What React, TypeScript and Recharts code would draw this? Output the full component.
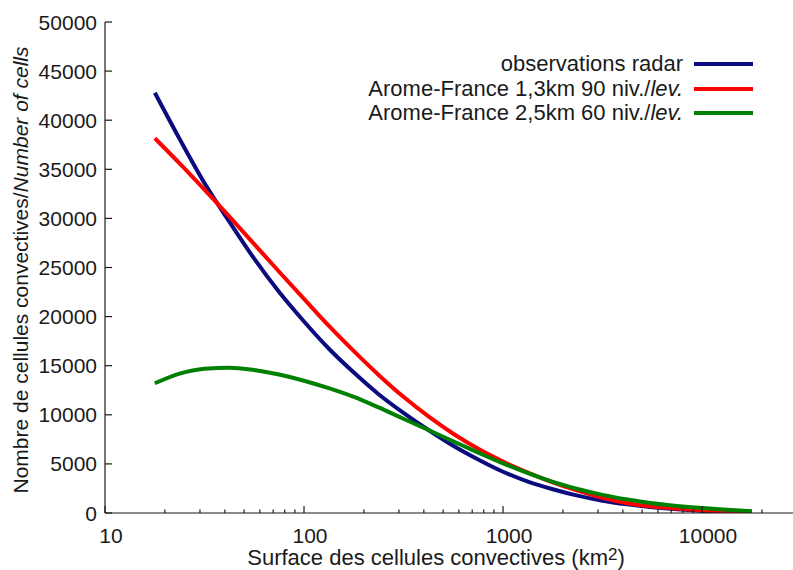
import React from "react";
import { LineChart, Line, XAxis, YAxis, Legend } from "recharts";

// cell surface (km2), log scale, read every 1/8 decade
const surfaces = [17.8, 23.7, 31.6, 42.2, 56.2, 75, 100, 133, 178, 237, 316, 422, 562, 750, 1000, 1334, 1778, 2371, 3162, 4217, 5623, 7499, 10000, 13335, 17783];
const radar = [42800, 38100, 33600, 29650, 25900, 22500, 19500, 16750, 14300, 12100, 10200, 8450, 6850, 5450, 4200, 3200, 2420, 1770, 1250, 880, 590, 370, 210, 150, 120];
const arome13 = [38160, 35600, 32930, 30180, 27380, 24570, 21800, 19070, 16480, 14060, 11830, 9830, 8070, 6540, 5240, 4120, 3120, 2270, 1550, 1000, 650, 430, 290, 190, 130];
const arome25 = [13210, 14200, 14700, 14800, 14560, 14100, 13470, 12710, 11820, 10750, 9600, 8450, 7300, 6150, 5050, 4070, 3170, 2450, 1850, 1380, 1000, 720, 500, 320, 170];

const xTicks = [10, 20, 30, 40, 50, 60, 70, 80, 90, 100, 200, 300, 400, 500, 600, 700, 800, 900, 1000, 2000, 3000, 4000, 5000, 6000, 7000, 8000, 9000, 10000, 20000];
const yTicks = [0, 5000, 10000, 15000, 20000, 25000, 30000, 35000, 40000, 45000, 50000];

const series = [
  { key: "radar", name: "observations radar", italic: "", color: "#0b0b80" },
  { key: "arome13", name: "Arome-France 1,3km 90 niv./", italic: "lev.", color: "#ff0000" },
  { key: "arome25", name: "Arome-France 2,5km 60 niv./", italic: "lev.", color: "#008000" },
];

const data = surfaces.map((x, i) => ({ x, radar: radar[i], arome13: arome13[i], arome25: arome25[i] }));

const INK = "#1a1a1a";
const isDecade = (v: number) => Math.abs(Math.log10(v) - Math.round(Math.log10(v))) < 1e-9;

const XTick = ({ x, y, payload }: any) => {
  const major = isDecade(payload.value);
  return (
    <g>
      <line x1={x} y1={y} x2={x} y2={y - (major ? 7 : 3.5)} stroke={INK} strokeWidth={1.2} />
      {major && (
        <text x={x + 6} y={y + 30} textAnchor="middle" fontSize={21} fill={INK}>
          {payload.value}
        </text>
      )}
    </g>
  );
};

const TopTick = ({ x, y, payload }: any) => {
  const major = isDecade(payload.value);
  return <line x1={x} y1={y} x2={x} y2={y + (major ? 7 : 3.5)} stroke={INK} strokeWidth={1.2} />;
};

const YTick = ({ x, y, payload }: any) => (
  <g>
    <line x1={x} y1={y} x2={x + 7} y2={y} stroke={INK} strokeWidth={1.2} />
    <text x={x - 8} y={y} dy={7.5} textAnchor="end" fontSize={21} fill={INK}>
      {payload.value}
    </text>
  </g>
);

const XTitle = () => (
  <text x={436} y={565} textAnchor="middle" fontSize={22} fill={INK}>
    Surface des cellules convectives (km
    <tspan fontSize={17} dy={-5}>2</tspan>
    <tspan dy={5}>)</tspan>
  </text>
);

const YTitle = () => (
  <text x={28} y={270} transform="rotate(-90 28 270)" textAnchor="middle" fontSize={21} fill={INK}>
    Nombre de cellules convectives/<tspan fontStyle="italic">Number of cells</tspan>
  </text>
);

const LegendBox = () => (
  <div style={{ fontSize: 22, lineHeight: "24.5px", color: INK }}>
    {series.map((s) => (
      <div key={s.key} style={{ display: "flex", alignItems: "center", justifyContent: "flex-end" }}>
        <span>
          {s.name}
          {s.italic && <i>{s.italic}</i>}
        </span>
        <span style={{ display: "inline-block", width: 59, height: 4, background: s.color, marginLeft: 11 }} />
      </div>
    ))}
  </div>
);

export default function App() {
  return (
    <div
      style={{
        position: "absolute",
        left: 0,
        top: 0,
        width: 793,
        height: 570,
        overflow: "hidden",
        background: "#fff",
        fontFamily: "'Liberation Sans', Arial, sans-serif",
      }}
    >
      <LineChart width={800} height={570} data={data} margin={{ top: 22, right: 3, bottom: 0, left: 0 }}>
        <XAxis
          dataKey="x"
          type="number"
          scale="log"
          domain={[10, 30000]}
          allowDataOverflow
          ticks={xTicks}
          interval={0}
          tickSize={0}
          tickMargin={0}
          tick={<XTick />}
          height={57}
          axisLine={{ stroke: INK, strokeWidth: 1.2 }}
          label={<XTitle />}
        />
        <XAxis
          xAxisId="top"
          orientation="top"
          dataKey="x"
          type="number"
          scale="log"
          domain={[10, 30000]}
          allowDataOverflow
          ticks={xTicks}
          interval={0}
          tickSize={0}
          tickMargin={0}
          tick={<TopTick />}
          height={0}
          axisLine={{ stroke: INK, strokeWidth: 1.2 }}
        />
        <YAxis
          type="number"
          domain={[0, 50000]}
          allowDataOverflow
          ticks={yTicks}
          interval={0}
          tickSize={0}
          tickMargin={0}
          tick={<YTick />}
          width={105}
          axisLine={{ stroke: INK, strokeWidth: 1.2 }}
          label={<YTitle />}
        />
        <Legend
          layout="vertical"
          align="center"
          verticalAlign="middle"
          wrapperStyle={{ top: 52, right: 47 }}
          content={<LegendBox />}
        />
        <Line xAxisId="top" dataKey="radar" stroke="none" dot={false} legendType="none" isAnimationActive={false} />
        {series.map((s) => (
          <Line
            key={s.key}
            type="monotone"
            dataKey={s.key}
            name={s.name}
            stroke={s.color}
            strokeWidth={4}
            dot={false}
            activeDot={false}
            isAnimationActive={false}
          />
        ))}
      </LineChart>
    </div>
  );
}
